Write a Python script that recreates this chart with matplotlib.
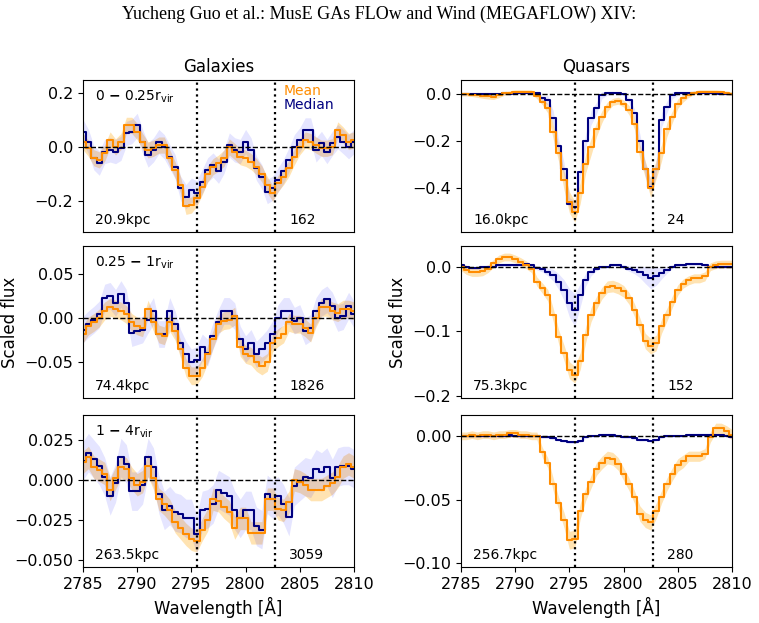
import numpy as np
import matplotlib
matplotlib.use("Agg")
import matplotlib.pyplot as plt

# wavelength grid (bin centres, 0.5 A)
wave = np.arange(2785.0, 2810.01, 0.5)

# --- galaxies, 0 - 0.25 r_vir
gal1_mean = [0.02, -0.005, -0.04, -0.048, -0.023, 0.026, 0.0, 0.02, 0.08, 0.08,
             0.057, 0.02, -0.011, -0.005, 0.007, 0.007, -0.04, -0.085, -0.14, -0.22,
             -0.215, -0.19, -0.147, -0.1, -0.073, -0.06, -0.042, 0.0, -0.017, -0.036,
             -0.042, -0.054, -0.073, -0.1, -0.14, -0.172, -0.135, -0.11, -0.079, -0.036,
             0.001, 0.026, 0.02, 0.007, -0.005, -0.005, 0.001, 0.063, 0.044, 0.02, 0.026]
gal1_median = [0.057, 0.02, -0.04, -0.06, -0.017, -0.011, -0.017, -0.005, 0.05, 0.057,
               0.08, 0.02, -0.03, -0.011, 0.02, 0.001, -0.036, -0.073, -0.153, -0.184,
               -0.16, -0.17, -0.128, -0.085, -0.067, -0.09, -0.054, 0.007, -0.011, -0.017,
               0.02, -0.011, -0.079, -0.11, -0.165, -0.153, -0.122, -0.09, -0.048, 0.001,
               0.026, 0.063, 0.063, -0.011, 0.013, -0.017, 0.013, 0.038, 0.02, 0.001, 0.02]
gal1_err = (0.03, 0.045)

# --- galaxies, 0.25 - 1 r_vir
gal2_mean = [-0.018, -0.009, -0.005, 0.0, 0.008, 0.012, 0.01, 0.008, 0.004, -0.005,
             -0.009, -0.011, 0.01, -0.005, -0.018, -0.02, -0.005, -0.015, -0.035, -0.056,
             -0.065, -0.065, -0.056, -0.041, -0.024, -0.007, -0.003, -0.002, 0.002, -0.033,
             -0.041, -0.043, -0.05, -0.054, -0.05, -0.028, -0.022, -0.018, -0.005, -0.007,
             -0.007, -0.011, -0.017, 0.0, 0.012, 0.012, 0.008, 0.006, 0.01, 0.01, 0.008]
gal2_median = [-0.013, -0.007, -0.002, 0.004, 0.023, 0.025, 0.017, 0.027, 0.017, -0.017,
               -0.015, -0.013, -0.002, 0.008, -0.018, -0.018, 0.008, -0.007, -0.028, -0.041,
               -0.05, -0.047, -0.033, -0.039, -0.02, -0.005, 0.008, 0.008, 0.002, -0.024,
               -0.035, -0.028, -0.041, -0.035, -0.028, -0.018, 0.0, 0.008, 0.008, -0.003,
               0.0, -0.015, -0.011, 0.008, 0.017, 0.021, 0.014, 0.0, 0.002, 0.014, 0.004]
gal2_err = (0.01, 0.015)

# --- galaxies, 1 - 4 r_vir
gal3_mean = [0.011, 0.014, 0.008, 0.006, 0.004, -0.006, 0.001, 0.008, 0.007, 0.001,
             -0.003, -0.001, 0.009, 0.001, -0.012, -0.015, -0.019, -0.026, -0.03, -0.034,
             -0.037, -0.038, -0.031, -0.025, -0.012, -0.013, -0.017, -0.02, -0.03, -0.024,
             -0.024, -0.033, -0.033, -0.033, -0.012, -0.012, -0.018, -0.019, -0.014, 0.0,
             -0.001, -0.003, -0.006, -0.006, -0.006, -0.004, -0.002, 0.002, 0.008, 0.01, 0.008]
gal3_median = [0.012, 0.017, 0.013, 0.009, 0.002, -0.01, -0.002, 0.014, 0.01, -0.007,
               -0.007, -0.003, 0.014, 0.008, -0.009, -0.019, -0.016, -0.02, -0.021, -0.024,
               -0.024, -0.034, -0.019, -0.018, -0.015, -0.006, -0.008, -0.01, -0.019, -0.024,
               -0.019, -0.019, -0.029, -0.031, -0.009, -0.012, -0.01, -0.015, -0.023, -0.004,
               -0.001, 0.002, 0.001, 0.007, 0.005, 0.008, 0.001, 0.008, 0.009, 0.009, 0.007]
gal3_err = (0.007, 0.012)

# --- quasars, 0 - 0.25 r_vir
qso1_mean = [0.0, 0.0, -0.002, -0.004, -0.006, -0.009, -0.011, -0.005, 0.003, 0.006,
             0.01, 0.01, 0.01, 0.01, -0.01, -0.033, -0.06, -0.16, -0.25, -0.366,
             -0.46, -0.5, -0.42, -0.295, -0.224, -0.15, -0.096, -0.054, -0.033, -0.028,
             -0.04, -0.068, -0.125, -0.245, -0.32, -0.4, -0.32, -0.25, -0.15, -0.096,
             -0.04, -0.018, -0.004, 0.006, 0.01, 0.01, 0.01, 0.01, 0.008, 0.005, 0.002]
qso1_median = [0.0, 0.0, 0.0, 0.0, 0.002, 0.0, 0.0, 0.002, 0.003, 0.0,
               0.005, 0.005, 0.005, 0.005, 0.003, -0.018, -0.026, -0.1, -0.22, -0.32,
               -0.465, -0.48, -0.33, -0.2, -0.1, -0.06, -0.004, 0.003, 0.006, 0.003,
               0.0, -0.026, -0.082, -0.2, -0.32, -0.394, -0.32, -0.11, -0.054, -0.004,
               0.003, 0.005, 0.005, 0.005, 0.005, 0.005, 0.005, 0.003, 0.002, 0.0, 0.0]
qso1_mean_err = [0.008, 0.008, 0.008, 0.01, 0.012, 0.012, 0.012, 0.01, 0.008, 0.008,
                 0.008, 0.008, 0.008, 0.008, 0.01, 0.012, 0.02, 0.03, 0.035, 0.04,
                 0.045, 0.045, 0.045, 0.04, 0.035, 0.03, 0.025, 0.02, 0.015, 0.015,
                 0.015, 0.02, 0.025, 0.03, 0.035, 0.04, 0.04, 0.035, 0.03, 0.025,
                 0.02, 0.015, 0.01, 0.008, 0.008, 0.008, 0.008, 0.008, 0.008, 0.008, 0.008]
qso1_median_err = [0.004, 0.004, 0.004, 0.004, 0.004, 0.004, 0.004, 0.004, 0.004, 0.004,
                   0.004, 0.004, 0.004, 0.004, 0.006, 0.01, 0.02, 0.03, 0.03, 0.03,
                   0.025, 0.025, 0.03, 0.03, 0.03, 0.025, 0.015, 0.008, 0.006, 0.006,
                   0.006, 0.01, 0.02, 0.03, 0.03, 0.025, 0.03, 0.03, 0.025, 0.015,
                   0.008, 0.005, 0.004, 0.004, 0.004, 0.004, 0.004, 0.004, 0.004, 0.004, 0.004]

# --- quasars, 0.25 - 1 r_vir
qso2_mean = [0.0, -0.005, -0.008, -0.008, -0.007, -0.003, 0.005, 0.012, 0.015, 0.015,
             0.012, 0.008, 0.003, -0.003, -0.023, -0.033, -0.044, -0.074, -0.108, -0.133,
             -0.16, -0.167, -0.146, -0.105, -0.074, -0.056, -0.041, -0.031, -0.03, -0.033,
             -0.038, -0.049, -0.067, -0.09, -0.115, -0.123, -0.118, -0.092, -0.074, -0.054,
             -0.036, -0.026, -0.021, -0.018, -0.018, -0.015, 0.0, 0.003, 0.004, 0.004, 0.004]
qso2_median = [0.002, 0.0, -0.002, -0.002, 0.0, 0.0, 0.0, 0.002, 0.002, 0.003,
               0.003, 0.003, 0.004, 0.002, -0.002, -0.004, -0.008, -0.013, -0.023, -0.036,
               -0.056, -0.067, -0.044, -0.02, -0.008, -0.003, 0.0, 0.0, 0.002, 0.002,
               0.0, -0.003, -0.005, -0.008, -0.013, -0.018, -0.015, -0.01, -0.005, 0.0,
               0.003, 0.003, 0.004, 0.004, 0.004, 0.003, 0.0, 0.0, 0.0, 0.0, 0.0]
qso2_mean_err = [0.006, 0.007, 0.007, 0.007, 0.007, 0.006, 0.006, 0.006, 0.006, 0.006,
                 0.006, 0.006, 0.006, 0.006, 0.007, 0.008, 0.009, 0.01, 0.011, 0.012,
                 0.013, 0.013, 0.013, 0.012, 0.011, 0.01, 0.009, 0.009, 0.009, 0.009,
                 0.009, 0.009, 0.01, 0.011, 0.012, 0.012, 0.012, 0.011, 0.01, 0.009,
                 0.008, 0.007, 0.007, 0.007, 0.007, 0.007, 0.006, 0.006, 0.006, 0.006, 0.006]
qso2_median_err = [0.002, 0.002, 0.002, 0.002, 0.002, 0.002, 0.002, 0.002, 0.002, 0.002,
                   0.002, 0.002, 0.002, 0.002, 0.003, 0.004, 0.006, 0.009, 0.012, 0.016,
                   0.022, 0.025, 0.018, 0.01, 0.006, 0.003, 0.002, 0.002, 0.002, 0.002,
                   0.003, 0.004, 0.006, 0.009, 0.013, 0.016, 0.014, 0.009, 0.005, 0.003,
                   0.002, 0.002, 0.002, 0.002, 0.002, 0.002, 0.002, 0.002, 0.002, 0.002, 0.002]

# --- quasars, 1 - 4 r_vir
qso3_mean = [0.0, 0.0, 0.001, 0.0, 0.001, 0.001, 0.0, 0.001, 0.001, 0.002,
             0.002, 0.001, 0.001, 0.0, 0.0, -0.013, -0.021, -0.038, -0.053, -0.066,
             -0.082, -0.081, -0.059, -0.046, -0.036, -0.026, -0.021, -0.017, -0.018, -0.022,
             -0.03, -0.038, -0.048, -0.061, -0.066, -0.068, -0.059, -0.048, -0.038, -0.03,
             -0.023, -0.02, -0.016, -0.016, -0.016, -0.014, -0.001, 0.006, 0.006, 0.004, 0.001]
qso3_median = [0.0, 0.0, 0.0, 0.0, 0.0, 0.0, 0.0, 0.0, 0.0, 0.001,
               0.0, 0.0, 0.0, 0.0, 0.0, -0.001, -0.001, -0.002, -0.003, -0.004,
               -0.005, -0.005, -0.004, -0.001, 0.0, 0.0, 0.001, 0.001, 0.001, 0.0,
               -0.001, -0.001, -0.002, -0.003, -0.003, -0.004, -0.003, -0.001, 0.0, 0.0,
               0.0, 0.0, 0.001, 0.001, 0.001, 0.001, 0.001, 0.001, 0.001, 0.0, -0.001]
qso3_mean_err = [0.003, 0.003, 0.003, 0.003, 0.003, 0.003, 0.003, 0.003, 0.003, 0.003,
                 0.003, 0.003, 0.003, 0.003, 0.003, 0.004, 0.004, 0.005, 0.005, 0.006,
                 0.007, 0.007, 0.006, 0.005, 0.005, 0.005, 0.005, 0.005, 0.005, 0.005,
                 0.005, 0.005, 0.005, 0.006, 0.006, 0.006, 0.006, 0.005, 0.005, 0.005,
                 0.005, 0.005, 0.004, 0.004, 0.004, 0.004, 0.004, 0.004, 0.004, 0.004, 0.004]
qso3_median_err = [0.001] * 51

panels = [
    (gal1_mean, gal1_median, gal1_err[0], gal1_err[1], (-0.315, 0.248), [-0.2, 0.0, 0.2],
     r"$0\ \mathbf{-}\ 0.25\mathrm{r}_{\rm vir}$", "20.9kpc", "162"),
    (qso1_mean, qso1_median, qso1_mean_err, qso1_median_err, (-0.586, 0.06), [-0.4, -0.2, 0.0],
     None, "16.0kpc", "24"),
    (gal2_mean, gal2_median, gal2_err[0], gal2_err[1], (-0.09, 0.081), [-0.05, 0.0, 0.05],
     r"$0.25\ \mathbf{-}\ 1\mathrm{r}_{\rm vir}$", "74.4kpc", "1826"),
    (qso2_mean, qso2_median, qso2_mean_err, qso2_median_err, (-0.203, 0.032), [-0.2, -0.1, 0.0],
     None, "75.3kpc", "152"),
    (gal3_mean, gal3_median, gal3_err[0], gal3_err[1], (-0.0543, 0.0405), [-0.05, -0.025, 0.0, 0.025],
     r"$1\ \mathbf{-}\ 4\mathrm{r}_{\rm vir}$", "263.5kpc", "3059"),
    (qso3_mean, qso3_median, qso3_mean_err, qso3_median_err, (-0.103, 0.0164), [-0.1, -0.05, 0.0],
     None, "256.7kpc", "280"),
]

mg2 = [2795.53, 2802.70]
c_mean = "darkorange"
c_med = "navy"

fig = plt.figure(figsize=(7.59, 6.23), dpi=100)
lefts = [83 / 759, 461 / 759]
bottoms = [1 - 232 / 623, 1 - 398 / 623, 1 - 567 / 623]
w, h = 271 / 759, 152 / 623

for i, (mean, med, emean, emed, ylim, yt, rlab, dlab, nlab) in enumerate(panels):
    row, col = i // 2, i % 2
    ax = fig.add_axes([lefts[col], bottoms[row], w, h])
    mean = np.array(mean)
    med = np.array(med)
    emean = np.array(emean) * np.ones_like(mean)
    emed = np.array(emed) * np.ones_like(med)
    ax.fill_between(wave, mean - emean, mean + emean, color="orange", alpha=0.3, lw=0)
    ax.fill_between(wave, med - emed, med + emed, color="blue", alpha=0.1, lw=0)
    ax.step(wave, med, where="mid", color=c_med, lw=1.5)
    ax.step(wave, mean, where="mid", color=c_mean, lw=1.5)
    ax.axhline(0, color="k", ls="--", lw=1)
    for l in mg2:
        ax.axvline(l, color="k", ls=":", lw=1.6)
    ax.set_xlim(2785, 2810)
    ax.set_ylim(*ylim)
    ax.set_yticks(yt)
    ax.tick_params(labelsize=11.5)
    if row < 2:
        ax.set_xticks([])
    else:
        ax.set_xticks(np.arange(2785, 2811, 5))
        ax.set_xlabel("Wavelength [Å]", fontsize=12)
    if row == 1:
        ax.set_ylabel("Scaled flux", fontsize=12)
    if row == 0:
        ax.set_title("Galaxies" if col == 0 else "Quasars", fontsize=12)
    if rlab:
        ax.text(0.045, 0.89, rlab, transform=ax.transAxes, fontsize=10, va="center")
    ax.text(0.045, 0.08, dlab, transform=ax.transAxes, fontsize=10, va="center")
    ax.text(0.76, 0.08, nlab, transform=ax.transAxes, fontsize=10, va="center")
    if i == 0:
        ax.text(0.74, 0.93, "Mean", color=c_mean, transform=ax.transAxes, fontsize=10, va="center")
        ax.text(0.74, 0.835, "Median", color=c_med, transform=ax.transAxes, fontsize=10, va="center")

fig.text(0.5, 0.977, "Yucheng Guo et al.: MusE GAs FLOw and Wind (MEGAFLOW) XIV:",
         family=["Liberation Serif", "DejaVu Serif"], fontsize=13, ha="center", va="center")

fig.savefig("out.png", dpi=100)
